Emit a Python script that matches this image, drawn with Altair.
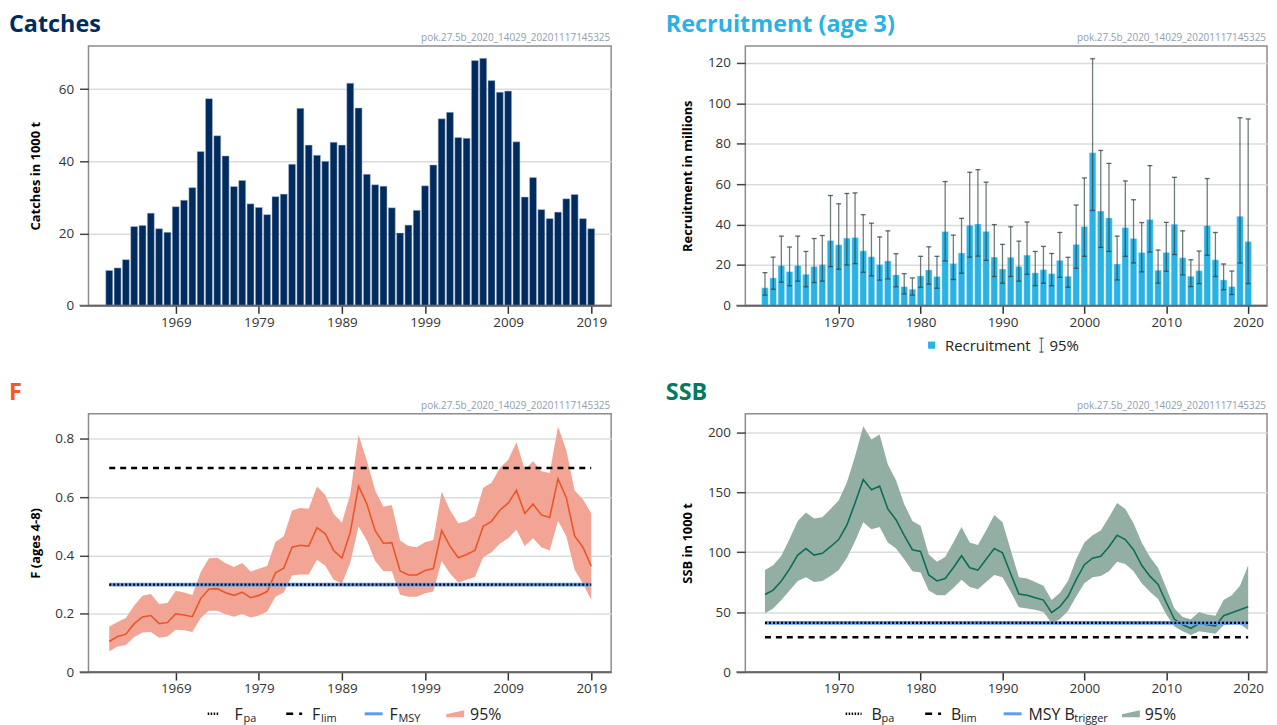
import altair as alt
import pandas as pd

FONT = "Open Sans"
STAMP = "pok.27.5b_2020_14029_20201117145325"

# ---------------- data ----------------
years_catch = list(range(1961, 2020))
catches = [9.7, 10.4, 12.7, 21.9, 22.2, 25.6, 21.3, 20.3, 27.4, 29.2,
           32.7, 42.7, 57.4, 47.1, 41.5, 33.0, 34.7, 28.2, 27.2, 25.2,
           30.2, 30.9, 39.2, 54.7, 44.5, 41.7, 40.0, 45.3, 44.5, 61.7,
           54.8, 36.4, 33.5, 33.1, 27.1, 20.1, 22.3, 26.4, 33.2, 39.0,
           51.8, 53.6, 46.6, 46.4, 68.0, 68.6, 62.4, 59.2, 59.5, 45.4,
           30.1, 35.5, 26.6, 24.1, 25.9, 29.6, 30.8, 24.1, 21.3]

years_rec = list(range(1961, 2021))
recruit = [8.7, 13.6, 19.8, 16.7, 19.8, 15.4, 19.2, 20.2, 32.1, 30.0,
           33.3, 33.6, 27.0, 24.1, 20.2, 22.0, 15.1, 9.3, 8.0, 14.6,
           17.5, 14.3, 36.6, 20.7, 25.9, 39.7, 40.3, 36.6, 23.9, 18.0,
           23.8, 19.3, 24.9, 16.1, 17.7, 15.7, 22.3, 14.4, 30.2, 39.0,
           75.6, 46.7, 43.3, 20.5, 38.5, 33.1, 26.2, 42.5, 17.4, 26.2,
           40.2, 23.6, 14.4, 17.2, 39.5, 22.6, 12.6, 9.3, 44.1, 31.6]
rec_hi = [16.2, 23.9, 34.3, 28.9, 34.3, 26.7, 33.1, 34.6, 54.4, 50.3,
          55.4, 55.7, 44.9, 40.7, 33.9, 36.9, 25.6, 15.7, 13.6, 24.3,
          29.0, 24.3, 61.3, 34.8, 43.1, 65.9, 67.2, 61.0, 40.0, 30.2,
          38.9, 31.8, 41.3, 26.7, 29.2, 25.7, 36.1, 23.8, 49.7, 63.1,
          122.1, 76.7, 70.3, 34.3, 61.6, 52.3, 41.0, 69.2, 27.4, 41.1,
          63.4, 36.9, 22.6, 26.9, 62.8, 36.1, 20.5, 17.0, 92.9, 92.3]
rec_lo = [5.1, 8.0, 11.5, 9.7, 12.0, 9.2, 11.3, 12.0, 19.2, 17.9,
          20.0, 20.7, 16.4, 14.6, 12.5, 13.1, 9.2, 5.7, 5.1, 9.0,
          10.5, 8.5, 22.0, 12.8, 15.9, 23.9, 24.4, 22.3, 14.3, 11.0,
          14.3, 12.0, 15.4, 9.8, 11.0, 9.7, 13.9, 9.0, 18.4, 24.3,
          47.0, 28.7, 26.7, 12.6, 24.3, 21.0, 16.6, 26.4, 11.0, 16.9,
          25.2, 15.1, 9.3, 10.8, 24.8, 14.3, 7.7, 5.4, 21.0, 10.8]

years_f = list(range(1961, 2020))
f_val = [0.105, 0.122, 0.13, 0.166, 0.189, 0.194, 0.166, 0.17, 0.20, 0.196,
         0.19, 0.252, 0.285, 0.286, 0.272, 0.263, 0.274, 0.255, 0.263, 0.276,
         0.34, 0.356, 0.428, 0.435, 0.432, 0.495, 0.474, 0.417, 0.391, 0.479,
         0.638, 0.576, 0.485, 0.442, 0.444, 0.347, 0.333, 0.333, 0.348, 0.355,
         0.485, 0.432, 0.392, 0.403, 0.417, 0.50, 0.517, 0.555, 0.579, 0.623,
         0.544, 0.576, 0.539, 0.53, 0.663, 0.598, 0.467, 0.428, 0.363]
f_hi = [0.156, 0.172, 0.185, 0.228, 0.262, 0.268, 0.233, 0.237, 0.279, 0.273,
        0.264, 0.342, 0.39, 0.392, 0.373, 0.36, 0.374, 0.345, 0.354, 0.364,
        0.446, 0.466, 0.554, 0.563, 0.56, 0.636, 0.607, 0.542, 0.513, 0.61,
        0.814, 0.725, 0.623, 0.567, 0.573, 0.451, 0.432, 0.428, 0.445, 0.453,
        0.619, 0.555, 0.51, 0.517, 0.535, 0.632, 0.649, 0.70, 0.727, 0.788,
        0.695, 0.723, 0.689, 0.683, 0.842, 0.761, 0.623, 0.593, 0.544]
f_lo = [0.071, 0.088, 0.093, 0.12, 0.136, 0.137, 0.118, 0.122, 0.145, 0.143,
        0.137, 0.185, 0.21, 0.21, 0.198, 0.19, 0.199, 0.187, 0.194, 0.208,
        0.258, 0.273, 0.331, 0.335, 0.335, 0.385, 0.365, 0.317, 0.304, 0.374,
        0.499, 0.451, 0.381, 0.346, 0.346, 0.265, 0.258, 0.258, 0.27, 0.276,
        0.381, 0.338, 0.307, 0.317, 0.326, 0.394, 0.411, 0.44, 0.459, 0.488,
        0.432, 0.459, 0.428, 0.417, 0.519, 0.466, 0.351, 0.304, 0.247]

years_ssb = list(range(1961, 2021))
ssb = [64.7, 68.3, 76.0, 86.0, 97.5, 103.0, 97.5, 99.0, 104.5, 110.5,
       122.5, 141.0, 160.5, 152.0, 155.0, 136.0, 127.0, 114.0, 102.0, 100.5,
       81.0, 76.0, 78.0, 87.0, 97.0, 87.0, 85.0, 94.0, 103.0, 99.5,
       82.0, 65.0, 64.0, 62.0, 60.0, 49.5, 54.5, 63.0, 77.0, 89.5,
       95.0, 96.5, 104.5, 114.0, 110.5, 102.0, 89.0, 80.0, 73.0, 58.0,
       44.0, 39.5, 36.5, 40.5, 39.5, 38.5, 47.0, 49.5, 52.0, 54.5]
ssb_hi = [85, 89, 97, 111, 126, 133, 128, 129, 136, 143,
          158, 180, 205, 194, 198, 173, 160, 140, 126, 122,
          98, 92, 96, 108, 121, 108, 106, 118, 131, 125,
          102, 79, 78, 75, 72, 60, 66, 76, 94, 108,
          114, 118, 129, 141, 136, 124, 108, 96, 87, 70,
          53, 46, 44, 50, 48, 47, 60, 64, 72, 89]
ssb_lo = [49, 53, 60, 68, 76, 79, 75, 76, 80, 85,
          95, 109, 125, 119, 121, 108, 103, 94, 84, 83,
          68, 64, 64, 70, 77, 71, 69, 75, 81, 79,
          67, 54, 53, 52, 50, 41, 44, 51, 63, 74,
          79, 80, 84, 92, 90, 84, 74, 67, 61, 48,
          38, 34, 31, 34, 33, 32, 39, 40, 40, 35]

F_PA, F_LIM, F_MSY = 0.30, 0.70, 0.30
B_PA, B_LIM, MSY_BTRIGGER = 41, 29, 41

ticks_left = [1969, 1979, 1989, 1999, 2009, 2019]
ticks_right = [1970, 1980, 1990, 2000, 2010, 2020]

# ---------------- styling ----------------
NAVY = "#002b5f"
SKY = "#29b2e6"
ORANGE = "#f15a24"
F_LINE = "#e8572a"
F_BAND = "#f2a594"
TEAL = "#047a5e"
SSB_LINE = "#0b6e5a"
SSB_BAND = "#93aea2"
BLUE = "#5e9cf0"
STAMP_COL = "#8f9db3"

WL, WR = 526, 525
HT, HB = 261, 260
XDOM_L = [1958.5, 2021.4]
XDOM_R = [1958.6, 2022.3]

ONE = pd.DataFrame({"k": [0]})


def x_axis(vals):
    return alt.Axis(values=vals, format="d", title=None, grid=False,
                    domainColor="#666", domainWidth=1.5, tickColor="#333",
                    tickSize=8, tickWidth=1.5, labelFontSize=13.5,
                    labelColor="#333", labelFont=FONT, labelPadding=2)


def y_axis(vals, title, tp, fmt=None):
    kw = dict(values=vals, title=title, grid=True, gridColor="#dcdcdc",
              gridWidth=1.5, domain=False, tickColor="#444", tickSize=9,
              tickWidth=1.5, labelFontSize=13.5, labelColor="#333",
              labelFont=FONT, labelPadding=6, titleFontSize=13,
              titleFont=FONT, titleFontWeight="bold", titleColor="#000",
              minExtent=40, maxExtent=40, titlePadding=tp)
    if fmt:
        kw["format"] = fmt
    return alt.Axis(**kw)


def text_at(txt, x, y, size, color="#000", weight="normal", align="left"):
    return alt.Chart(pd.DataFrame({"t": [txt]})).mark_text(
        align=align, baseline="alphabetic", fontSize=size, font=FONT,
        fontWeight=weight, color=color
    ).encode(x=alt.value(x), y=alt.value(y), text="t:N")


def hrule(x1, x2, y, color, width, dash=None):
    kw = dict(color=color, strokeWidth=width)
    if dash:
        kw["strokeDash"] = dash
    return alt.Chart(ONE).mark_rule(**kw).encode(
        x=alt.value(x1), x2=alt.value(x2), y=alt.value(y))


def vrule(x, y1, y2, color, width):
    return alt.Chart(ONE).mark_rule(color=color, strokeWidth=width).encode(
        x=alt.value(x), y=alt.value(y1), y2=alt.value(y2))


def header(title, color, W, H):
    return [text_at(title, -80, -14, 23.5, color, "bold"),
            text_at(STAMP, W - 1, -5, 10, STAMP_COL, align="right"),
            hrule(-9, W, H, "#666", 1.5)]


WEDGE = "M -1 0.06 L 1 -0.39 L 1 0.39 L -1 0.39 Z"


def wedge(cx, cy, color):
    return alt.Chart(ONE).mark_point(shape=WEDGE, filled=True, size=324,
                                     color=color, opacity=1, strokeWidth=0
                                     ).encode(x=alt.value(cx), y=alt.value(cy))


# ---------------- Catches ----------------
df_c = pd.DataFrame({"year": years_catch, "catch": catches})
xs_L = alt.Scale(domain=XDOM_L, nice=False, zero=False)
ys_c = alt.Scale(domain=[0, 72], nice=False)
bars_c = alt.Chart(df_c).transform_calculate(
    b0="datum.year - 0.42", b1="datum.year + 0.42"
).mark_bar(color=NAVY, stroke="#b9c3d3", strokeWidth=0.5).encode(
    x=alt.X("b0:Q", scale=xs_L, axis=x_axis(ticks_left)),
    x2="b1:Q",
    y=alt.Y("catch:Q", scale=ys_c, axis=y_axis([0, 20, 40, 60], "Catches in 1000 t", 6.5)),
    y2=alt.datum(0),
)
catch_chart = alt.layer(bars_c, *header("Catches", NAVY, WL, HT)).properties(width=WL, height=HT)

# ---------------- Recruitment ----------------
df_r = pd.DataFrame({"year": years_rec, "rec": recruit, "lo": rec_lo, "hi": rec_hi})
xs_R = alt.Scale(domain=XDOM_R, nice=False, zero=False)
ys_r = alt.Scale(domain=[0, 128.4], nice=False)
ry_axis = y_axis([0, 20, 40, 60, 80, 100, 120], "Recruitment in millions", 11.5)
ERR = "#2f4545"
bars_r = alt.Chart(df_r).transform_calculate(
    b0="datum.year - 0.4", b1="datum.year + 0.4"
).mark_bar(color=SKY, stroke="#d6eef8", strokeWidth=0.4).encode(
    x=alt.X("b0:Q", scale=xs_R, axis=x_axis(ticks_right)),
    x2="b1:Q",
    y=alt.Y("rec:Q", scale=ys_r, axis=ry_axis),
    y2=alt.datum(0),
)
err_r = alt.Chart(df_r).mark_rule(color=ERR, strokeWidth=1.3, opacity=0.7).encode(
    x=alt.X("year:Q", scale=xs_R, axis=x_axis(ticks_right)),
    y=alt.Y("lo:Q", scale=ys_r, axis=ry_axis),
    y2="hi:Q",
)
caps_base = alt.Chart(df_r).transform_calculate(
    c0="datum.year - 0.3", c1="datum.year + 0.3")
cap_hi = caps_base.mark_rule(color=ERR, strokeWidth=1.3, opacity=0.8).encode(
    x=alt.X("c0:Q", scale=xs_R, axis=x_axis(ticks_right)), x2="c1:Q",
    y=alt.Y("hi:Q", scale=ys_r, axis=ry_axis))
cap_lo = caps_base.mark_rule(color=ERR, strokeWidth=1.3, opacity=0.8).encode(
    x=alt.X("c0:Q", scale=xs_R, axis=x_axis(ticks_right)), x2="c1:Q",
    y=alt.Y("lo:Q", scale=ys_r, axis=ry_axis))

ly = HT + 40
rec_legend = [
    alt.Chart(ONE).mark_square(size=52, color=SKY, opacity=1).encode(x=alt.value(187.5), y=alt.value(ly)),
    text_at("Recruitment", 201, HT + 45.5, 15, "#222"),
    vrule(298, ly - 7, ly + 7, "#6f7f7f", 1.3),
    hrule(296, 300, ly - 7, "#4f5f5f", 1.3),
    hrule(296, 300, ly + 7, "#4f5f5f", 1.3),
    text_at("95%", 306, HT + 45.5, 15, "#222"),
]
rec_chart = alt.layer(bars_r, err_r, cap_hi, cap_lo, *header("Recruitment (age 3)", SKY, WR, HT),
                      *rec_legend).properties(width=WR, height=HT)

# ---------------- F ----------------
df_f = pd.DataFrame({"year": years_f, "f": f_val, "lo": f_lo, "hi": f_hi})
ys_f = alt.Scale(domain=[0, 0.886], nice=False)
fy_axis = y_axis([0, 0.2, 0.4, 0.6, 0.8], "F (ages 4-8)", 6.5, "~g")
band_f = alt.Chart(df_f).mark_area(color=F_BAND, opacity=1).encode(
    x=alt.X("year:Q", scale=xs_L, axis=x_axis(ticks_left)),
    y=alt.Y("lo:Q", scale=ys_f, axis=fy_axis), y2="hi:Q")
line_f = alt.Chart(df_f).mark_line(color=F_LINE, strokeWidth=1.6).encode(
    x=alt.X("year:Q", scale=xs_L, axis=x_axis(ticks_left)),
    y=alt.Y("f:Q", scale=ys_f, axis=fy_axis))
ref_f = pd.DataFrame({"x0": [years_f[0]], "x1": [years_f[-1]],
                      "pa": [F_PA], "lim": [F_LIM], "msy": [F_MSY]})


def ref_rule(df, field, xs, ys, yax, ticks, **kw):
    return alt.Chart(df).mark_rule(**kw).encode(
        x=alt.X("x0:Q", scale=xs, axis=x_axis(ticks)), x2="x1:Q",
        y=alt.Y(field + ":Q", scale=ys, axis=yax))


DOT = [2, 2]
f_msy = ref_rule(ref_f, "msy", xs_L, ys_f, fy_axis, ticks_left, color=BLUE, strokeWidth=3.6)
f_pa = ref_rule(ref_f, "pa", xs_L, ys_f, fy_axis, ticks_left, color="#000", strokeWidth=2.4, strokeDash=DOT)
f_lim = ref_rule(ref_f, "lim", xs_L, ys_f, fy_axis, ticks_left, color="#000", strokeWidth=2.6, strokeDash=[6, 5])

fy = HB + 42
ft = HB + 48
SUB = 11
LF = 16
f_legend = [
    hrule(120, 131, fy, "#000", 2.6, [1.5, 1.5]),
    text_at("F", 147, ft, LF, "#222"), text_at("pa", 156, ft + 2, SUB, "#222"),
    hrule(199, 215, fy, "#000", 2.6, [7, 6]),
    text_at("F", 225, ft, LF, "#222"), text_at("lim", 234, ft + 2, SUB, "#222"),
    hrule(278, 296, fy, BLUE, 3),
    text_at("F", 303, ft, LF, "#222"), text_at("MSY", 312, ft + 2, SUB, "#222"),
    wedge(369, fy, F_BAND),
    text_at("95%", 384, ft, LF, "#222"),
]
f_chart = alt.layer(band_f, line_f, f_msy, f_pa, f_lim, *header("F", ORANGE, WL, HB),
                    *f_legend).properties(width=WL, height=HB)

# ---------------- SSB ----------------
df_s = pd.DataFrame({"year": years_ssb, "ssb": ssb, "lo": ssb_lo, "hi": ssb_hi})
ys_s = alt.Scale(domain=[0, 215.4], nice=False)
sy_axis = y_axis([0, 50, 100, 150, 200], "SSB in 1000 t", 11.5)
band_s = alt.Chart(df_s).mark_area(color=SSB_BAND, opacity=1).encode(
    x=alt.X("year:Q", scale=xs_R, axis=x_axis(ticks_right)),
    y=alt.Y("lo:Q", scale=ys_s, axis=sy_axis), y2="hi:Q")
line_s = alt.Chart(df_s).mark_line(color=SSB_LINE, strokeWidth=1.6).encode(
    x=alt.X("year:Q", scale=xs_R, axis=x_axis(ticks_right)),
    y=alt.Y("ssb:Q", scale=ys_s, axis=sy_axis))
ref_s = pd.DataFrame({"x0": [years_ssb[0]], "x1": [years_ssb[-1]],
                      "pa": [B_PA], "lim": [B_LIM], "msy": [MSY_BTRIGGER]})
s_msy = ref_rule(ref_s, "msy", xs_R, ys_s, sy_axis, ticks_right, color=BLUE, strokeWidth=3.6)
s_pa = ref_rule(ref_s, "pa", xs_R, ys_s, sy_axis, ticks_right, color="#000", strokeWidth=2.4, strokeDash=DOT)
s_lim = ref_rule(ref_s, "lim", xs_R, ys_s, sy_axis, ticks_right, color="#000", strokeWidth=2.6, strokeDash=[6, 5])

s_legend = [
    hrule(101, 117, fy, "#000", 2.6, [1.5, 1.5]),
    text_at("B", 127, ft, LF, "#222"), text_at("pa", 137, ft + 2, SUB, "#222"),
    hrule(181, 197, fy, "#000", 2.6, [7, 6]),
    text_at("B", 207, ft, LF, "#222"), text_at("lim", 217, ft + 2, SUB, "#222"),
    hrule(260, 278, fy, BLUE, 3),
    text_at("MSY B", 285, ft, LF, "#222"), text_at("trigger", 331, ft + 2, SUB, "#222"),
    wedge(388, fy, SSB_BAND),
    text_at("95%", 402, ft, LF, "#222"),
]
ssb_chart = alt.layer(band_s, line_s, s_msy, s_pa, s_lim, *header("SSB", TEAL, WR, HB),
                      *s_legend).properties(width=WR, height=HB)

# ---------------- assemble ----------------
row1 = alt.hconcat(catch_chart, rec_chart, spacing=52)
row2 = alt.hconcat(f_chart, ssb_chart, spacing=52)
chart = alt.vconcat(row1, row2, spacing=25).properties(
    padding={"left": 0, "top": 2, "right": 0, "bottom": 0},
    background="white",
).configure_view(stroke="#8c8c8c", strokeWidth=1.5)

chart.save("out.html", embed_options={"renderer": "svg", "actions": False})
